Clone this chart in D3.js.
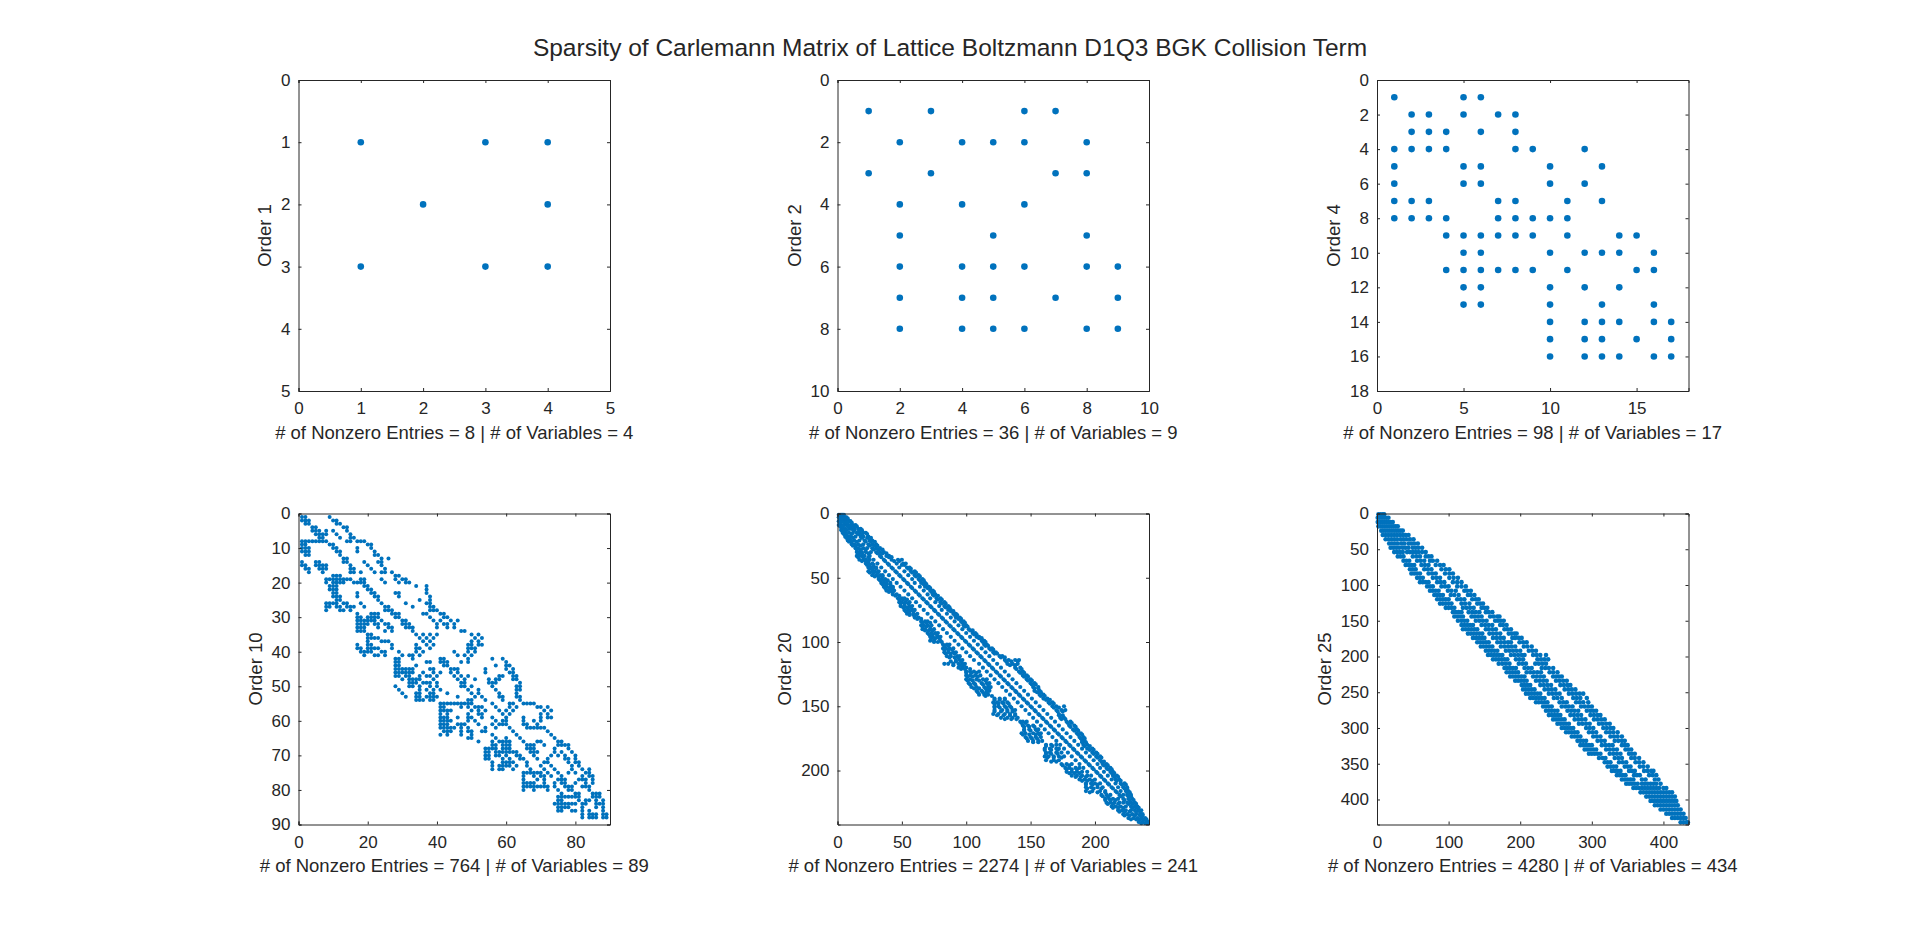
<!DOCTYPE html>
<html>
<head>
<meta charset="utf-8">
<script src="https://cdn.jsdelivr.net/npm/d3@7/dist/d3.min.js"></script>
<style>
    html, body { margin: 0; padding: 0; background: #fff; }
    text { font-family: "Liberation Sans", Arial, sans-serif; fill: #262626; }
</style>
</head>
<body>
<svg id="chart" width="1920" height="926"></svg>
<script>
const chartTitle = "Sparsity of Carlemann Matrix of Lattice Boltzmann D1Q3 BGK Collision Term";
const orderLabels = [1, 2, 4, 10, 20, 25];
const nonzeroCounts = [8, 36, 98, 764, 2274, 4280];
const variableCounts = [4, 9, 17, 89, 241, 434];
const axisMaxima = [5, 10, 18, 90, 242, 435];
const xTickValues = [[0,1,2,3,4,5], [0,2,4,6,8,10], [0,5,10,15], [0,20,40,60,80], [0,50,100,150,200], [0,100,200,300,400]];
const yTickValues = [[0,1,2,3,4,5], [0,2,4,6,8,10], [0,2,4,6,8,10,12,14,16,18], [0,10,20,30,40,50,60,70,80,90], [0,50,100,150,200], [0,50,100,150,200,250,300,350,400]];

// every row below is [row, col, col, ...]
const order1Rows = [[1,1,3,4],[2,2,4],[3,1,3,4]];
const order2Rows = [[1,1,3,6,7],[2,2,4,5,6,8],[3,1,3,7,8],[4,2,4,6],[5,2,5,8],[6,2,4,5,6,8,9],[7,2,4,5,7,9],[8,2,4,5,6,8,9]];
const order4Rows = [[1,1,5,6],[2,2,3,5,7,8],[3,2,3,4,6,8],[4,1,2,3,4,8,9,12],[5,1,5,6,10,13],[6,1,5,6,10,12],[7,1,2,3,7,8,11,13],[8,1,2,3,4,7,8,9,10,11],
    [9,4,5,6,7,8,9,11,14,15],[10,5,6,10,12,13,14,16],[11,4,5,6,7,8,9,11,15,16],[12,5,6,10,12,14],[13,5,6,10,13,16],[14,10,12,13,14,16,17],[15,10,12,13,15,17],[16,10,12,13,14,16,17]];
const order10Rows = [
    [1,1,2,9],[2,1,2,3,10,11],[3,2,3,11,12],[4,4,5,13,14],[5,4,5,6,8,10,14],[6,5,6,7,8,11,15],[7,6,7,12,15,16],
    [8,1,2,3,4,5,6,7,8,14,15,17,18,19],[9,1,2,9,10,20,21],[10,1,2,3,10,11,17,21],[11,1,2,3,11,12,17,22],[12,2,3,12,22,23],
    [13,13,14,24,26],[14,1,5,6,13,14,19,23,24],[15,1,2,5,6,7,8,15,20,24],[16,2,3,6,7,8,15,16,21,25],[17,3,7,15,16,18,22,24,25,27],
    [18,10,11,12,28,29],[19,8,9,10,11,12,13,14,15,18,19,24,28,30,31],[20,8,10,11,12,13,16,17,18,19,25,29,31,32],[21,9,10,11,19,20,34,37],
    [22,9,10,11,20,21,37],[23,10,11,17,21,22,28,29,37],[24,10,11,12,17,22,23,29,38],[25,11,12,23,35,38],[26,8,9,10,11,13,14,18,24,31,37,38],
    [27,8,9,11,12,14,15,16,19,25,26,33,38,39],[28,8,12,13,15,25,26,27,38,39,40],[29,17,21,22,23,27,28,29,36,37,41,42],[30,17,18,20,21,22,23,28,29,38,42,43],
    [31,17,18,19,20,21,22,24,30,31,39,41,44,46],[32,17,18,19,20,22,23,25,26,30,31,32,40,42,43,45],[33,17,18,19,23,26,27,31,32,33,40,43,45],[34,17,18,19,25,27,33,47,48],
    [35,20,21,34,36,38,40,50,52],[36,20,21,22,23,35,37,39,51,53],[37,20,24,25,26,36,38,50,52],[38,17,20,21,27,34,37,39,49,50,52,53],[39,17,18,20,21,22,23,27,34,35,38,49,50,51],
    [40,18,19,20,21,24,25,29,34,36,45,49,51],[41,19,22,23,25,30,32,33,35,46,48,50],[42,28,29,33,41,42,49,56,59],[43,28,29,37,38,41,42,43,47,49,60],[44,28,29,34,42,43,57,60,61],
    [45,28,29,30,31,32,33,38,39,44,45,46,54,60,62],[46,28,29,30,31,32,33,36,39,41,44,46,54,61,62],[47,28,29,31,32,35,37,38,40,45,47,49,58,59,62,63],
    [48,30,32,33,34,35,39,46,48,51,55,57,58,62,63],[49,32,33,34,36,37,38,40,47,48,55,56,57,64],[50,28,32,33,35,38,40,47,48,50,56,63,64],[51,29,35,37,39,41,49,52,57,63,64],
    [52,30,34,35,38,39,43,50,52,58,63],[53,31,34,35,37,38,39,40,46,51,53,58,59,63,64],[54,34,35,36,38,39,49,50,54,59,64],[55,41,42,43,44,45,46,47,48,49,50,56,61,62,65,66,67,68],
    [56,41,42,47,49,51,52,53,57,61,63,69,70,72],[57,41,42,43,44,50,52,54,58,60,62,71,73],[58,41,43,49,52,53,59,61,70,72],[59,41,42,43,46,49,50,53,56,60,65,70,72,73],
    [60,41,42,43,44,49,51,57,59,60,65,68,70],[61,41,42,43,46,47,48,52,56,58,59,60,65,66,69],[62,41,42,43,44,45,47,49,54,57,61,66,67,68,69,70,71],[63,42,43,44,47,49,50,53,54,62,72],
    [64,41,43,47,50,56,63,73],[65,49,50,57,60,64,74],[66,52,56,58,59,60,61,65,69,70,75,76],[67,56,57,59,60,61,66,67,68,71,75,76,77,78],[68,54,55,56,57,59,60,61,66,67,68,74,78],
    [69,54,55,57,58,59,60,61,62,63,67,68,69,74,76,79],[70,54,55,57,58,60,63,64,68,73,75,77,80],[71,54,55,59,61,64,65,69,72,77,78,80],[72,56,59,60,61,62,66,71,72,78,80,81],
    [73,56,58,59,60,61,63,66,70,73,79,81],[74,56,58,59,62,67,71,74,79,82,84],[75,65,66,67,68,69,70,72,75,78,80,83,84],[76,65,68,70,71,73,76,82,84,85],[77,65,69,71,75,76,77,81,82,83,85],
    [78,65,66,67,68,71,74,76,77,80,83,85],[79,65,66,67,68,69,70,71,72,74,77,78,79,82,83,84],[80,65,68,72,75,78,79,84],[81,76,80,81,85,86,87],[82,75,76,77,78,79,80,81,85,86,87],
    [83,75,76,81,83,84,86,88],[84,74,75,76,77,78,79,80,82,83,86,87,88],[85,75,76,77,78,82,86,88],[86,75,76,79,80,82,84,88],[87,82,84,85,86,88,89],[88,82,84,85,86,88,89]
];
const order20Rows = [
    [1,1,2,3,4,5],[3,1,2,3,4,5,6,7],[6,1,2,3,5,6,7,9,10],[9,1,2,3,5,7,8,10,12,14],[12,3,4,6,9,11,13,16,18],[15,4,5,6,9,12,15,17,20,22],[18,6,7,8,10,14,18,20,24],
    [21,8,9,10,13,17,21,25,27],[24,11,13,16,20,24,27,30],[27,14,16,20,23,27,30,33],[30,15,17,19,22,26,30,33,36],[33,15,17,19,21,25,33,38,40],
    [36,17,20,22,25,28,36,42,47,50],[39,22,24,27,31,39,46,51,53],[42,24,26,28,30,34,42,48,54,56],[45,24,27,29,32,37,45,52,57,60],[48,27,30,33,35,40,48,55,60,63],
    [51,32,34,37,43,51,58,63,66],[54,34,36,38,41,46,54,60,65,68],[57,36,38,41,43,49,57,64,68,71],[60,38,41,44,52,60,67,72,74],[63,43,46,55,63,70,74,76],[66,47,50,52,58,66,72,77,80],
    [69,48,50,53,56,61,69,76,80,83],[72,49,52,56,58,64,72,79,83,86],[75,52,55,58,60,67,75,81,86,88],[78,54,56,59,62,70,78,85,90,92],[81,60,63,73,81,88,92,95],[84,65,68,70,76,84,91,96,98],
    [87,65,67,70,73,79,87,94,98,100],[90,66,68,72,75,82,90,97,102],[93,70,73,76,78,85,93,100,105,107],[96,72,74,78,80,88,96,103,108,110],[99,72,75,80,91,99,106,112,114],
    [102,82,85,87,94,102,109,114,116],[105,82,84,87,90,97,105,112,118,120],[108,83,86,90,92,100,108,115,121,123],[111,85,88,93,95,103,111,118,126,128],[114,92,95,97,106,114,121,130,133,138,141],
    [117,83,86,90,94,97,99,110,117,124,132,136,140],[120,94,97,100,113,120,127,138,142],[123,100,103,106,110,116,123,130,141,144],[126,100,103,107,111,119,126,133,144,147],
    [129,100,103,108,113,116,122,129,136,147,150],[132,102,106,112,116,118,125,132,139,150,153],[135,104,108,114,117,119,128,135,142,152,156],[138,108,112,116,118,131,138,145,153,157],
    [141,110,114,117,134,141,148,157,160],[144,122,126,130,137,144,151,160,163],[147,121,124,128,132,140,147,154,164,167],[150,122,125,130,134,143,150,157,167,170,176],
    [153,122,128,132,136,138,146,153,160,170,174,177],[156,121,125,130,134,138,149,156,163,172],[159,127,132,136,140,152,159,166,173,176],[162,142,144,147,155,162,169,178,181],
    [165,144,148,152,158,165,172,180,184],[168,145,149,154,156,161,168,175,183,186],[171,143,146,152,156,158,164,171,178,186,189],[174,146,150,154,158,167,174,181,188,191],
    [177,148,152,156,159,170,177,184,190,192],[180,162,166,170,173,180,187,191,194],[183,161,165,170,172,176,183,190,194,198],[186,162,165,170,174,179,186,193,198,201],
    [189,161,164,168,172,176,182,189,196,201,204],[192,162,168,172,185,192,199,204],[195,174,178,182,188,195,202,206,209],[198,177,180,185,188,191,198,204,209,212],
    [201,178,182,186,190,194,201,207,212,214],[204,182,186,190,194,197,204,210,214,217],[207,188,192,196,200,207,213,216,219],[210,193,197,200,204,210,216,220,223],
    [213,193,197,202,206,213,218,222,225],[216,193,198,204,208,216,220,224,226],[219,205,209,212,219,222,225,228],[222,208,211,214,218,222,226,229],[225,209,212,215,219,222,225,228,231],
    [228,213,216,220,224,228,231,233],[231,218,221,224,228,231,234,236],[234,222,225,229,232,235,237],[237,226,230,233,236,239],[240,234,237,240,241],[241,236,239,241],
    [4,2,4,6,8],[7,2,5,7,8,11],[10,2,4,8,10,13,15],[13,3,5,7,13,17,19],[16,5,7,11,16,19,23],[19,7,9,12,19,23,26],[22,9,11,15,22,26,29],[25,12,14,18,25,29,31],[28,15,18,22,28,32,35],[31,16,19,24,31,35,38],[34,16,20,24,34,40,42],
    [37,19,22,24,37,44,48],[40,23,25,28,40,50,52],[43,25,27,30,43,55,57],[46,25,28,31,46,58,61],[49,29,32,35,49,61,64],[52,33,36,39,52,64,67],[55,35,38,41,55,67,69],[58,37,40,43,58,70,72],[61,40,43,61,73,75],[64,45,48,64,75,78],
    [67,48,51,54,67,78,81],[70,49,52,55,70,81,84],[73,51,54,57,73,84,87],[76,53,56,59,76,88,90],[79,56,59,61,79,91,93],[82,62,65,82,94,96],[85,66,69,72,85,97,99],[88,66,69,72,88,99,101],[91,68,71,74,91,103,105],[94,71,74,77,94,106,108],
    [97,73,76,79,97,110,112],[100,75,78,81,100,113,115],[103,83,86,103,115,117],[106,83,86,89,106,119,121],[109,84,88,91,109,122,124],[112,87,91,94,112,127,130],[115,88,92,96,115,131,135,140],[118,90,95,98,118,134,138],[121,96,99,103,121,139,143],
    [124,100,104,108,124,142,145],[127,101,105,109,127,145,148],[130,101,105,110,115,130,148,151],[133,103,107,113,117,133,151,154],[136,106,110,115,118,136,153,156],[139,109,113,116,139,155,158],[142,115,120,142,158,161],[145,122,126,130,145,162,165],
    [148,122,125,129,133,148,165,168],[151,122,126,131,135,151,168,172],[154,122,127,132,136,154,171,175],[157,124,129,134,138,157,172,175],[160,130,135,139,160,174,177],[163,143,146,163,179,182],[166,145,149,153,166,181,185],[169,145,150,155,169,184,187],
    [172,144,149,154,157,172,187,190],[175,147,151,155,175,189,192],[178,152,156,178,190,193],[181,162,167,181,192,196],[184,161,166,171,184,196,199],[187,162,166,171,187,199,202],[190,163,168,174,190,202,205],[193,166,170,193,205,207],[196,175,180,196,207,210],
    [199,178,182,186,199,210,213],[202,180,184,188,202,213,215],[205,185,189,193,205,215,218],[208,190,194,198,208,217,220],[211,193,198,202,211,221,224],[214,194,199,205,214,223,225],[217,196,202,208,217,225,227],[220,206,210,220,226,228],[223,208,212,216,223,227,230],
    [226,210,214,218,226,229,232],[229,214,218,222,229,232,234],[232,219,223,227,232,235],[235,223,227,231,235,237],[238,228,232,235,238,240]
];
const order25Rows = [
    [1,2,5,8,10],[6,1,4,7,10,13,16],[12,1,4,7,10,13,16,19,22],[18,2,5,8,11,14,17,20,23,26,29],[24,6,9,12,15,18,21,24,27,30,33,36],[30,8,12,16,20,24,28,32,36,40,44],
    [36,12,16,20,24,28,33,37,41,46,51],[42,17,21,25,29,34,38,44,48,52,57],[48,19,23,27,31,36,40,44,50,54,58,63],[54,24,28,32,36,42,46,50,54,58,63,68],
    [60,29,33,37,50,55,60,68,72,76],[66,37,41,45,56,61,66,74,78,84],[72,40,44,48,52,62,67,72,82,88,93],[78,46,50,54,66,71,76,90,96,101],[84,48,52,56,60,72,77,82,95,101,106],[90,56,60,64,78,83,88,101,107,113],
    [96,60,64,68,72,84,89,94,106,112,118],[102,70,74,78,90,95,100,112,118,124],[108,74,78,82,86,99,104,110,122,126,131],[114,80,84,88,92,103,108,114,127,131,136],
    [120,84,88,92,96,100,112,117,122,133,138,142],[126,88,92,96,100,104,118,123,129,140,144,148],[132,96,100,104,108,120,125,130,135,146,150,154],[138,106,110,114,118,128,133,138,143,152,156,161],
    [144,108,112,116,120,132,136,141,146,158,163,168,171],[150,113,118,122,126,138,143,148,153,165,169,173,177],[156,118,122,126,130,134,146,151,156,161,172,176,181],
    [162,120,124,128,132,136,140,152,156,161,166,178,182,187],[168,127,131,135,139,143,147,157,162,167,172,184,188,192,195],[174,134,138,142,146,150,162,167,172,177,189,193,198,202],
    [180,140,144,148,152,156,168,173,178,183,187,199,204,209],[186,145,149,153,157,161,173,178,183,188,193,205,210,216],[192,152,156,160,164,168,180,185,190,195,200,212,217,222],
    [198,155,159,163,167,171,175,187,192,197,202,206,218,223,228,236],[204,162,166,170,174,178,182,194,199,204,224,229,234,239],[210,170,175,180,185,198,203,208,221,226,231,236],
    [216,178,182,186,190,194,206,211,216,230,235,240,246],[222,181,185,189,193,197,209,214,219,224,229,241,246,252],[228,186,190,194,198,202,206,218,223,228,233,246,250,254,258],
    [234,193,197,201,205,209,222,227,232,237,250,255,260,265],[240,202,206,210,214,228,233,238,243,256,261,266,270],[246,204,208,212,216,220,234,239,244,249,262,267,272,277],
    [252,208,212,216,220,224,228,240,245,250,255,268,273,278,283,288],[258,214,218,222,226,230,234,247,252,258,274,279,284,293],[264,222,226,230,234,238,255,260,265,278,283,288,295],
    [270,232,236,240,244,258,263,268,273,285,290,295,300],[276,236,240,244,248,252,266,271,276,281,293,298,302,306],[282,240,244,248,252,256,270,275,280,285,298,303,308,312],
    [288,246,250,254,258,262,276,281,286,291,303,308,313,318],[294,252,256,260,264,268,282,287,292,297,310,315,320,325],[300,258,262,266,270,274,292,297,302,316,321,326,330],
    [306,264,268,272,276,280,296,301,306,320,325,330,336],[312,272,276,280,284,302,307,312,326,331,336,342],[318,280,284,288,292,308,313,318,332,337,342,346],
    [324,284,288,292,296,300,314,319,324,329,342,346,350],[330,290,294,298,302,306,320,325,330,335,347,351,355],[336,296,300,304,308,312,325,330,335,340,352,356,360],
    [342,310,315,319,332,337,342,355,360,366],[348,318,322,326,338,343,348,361,366,372],[354,322,326,330,334,346,350,354,367,372,378],[360,328,332,336,340,352,356,360,373,378,383,386],
    [366,335,339,343,347,359,363,367,380,385,390],[372,342,346,350,354,358,370,375,388,393],[378,348,352,356,360,364,370,374,378,382,386,390,396],[384,358,362,366,370,374,378,382,386,390,394,400,404],
    [390,368,372,376,380,384,388,392,396,400,404,408,412],[396,376,380,384,388,392,396,400,404,408,412,416],[402,382,386,390,394,398,402,406,410,414,418],[408,388,392,396,400,404,408,412,416,420],
    [414,396,400,404,408,412,416,420,424],[420,404,408,412,416,420,424,428],[426,412,416,420,424,428,431],[432,424,428,432,434]
];
const sparsityRows = [order1Rows, order2Rows, order4Rows, order10Rows, order20Rows, order25Rows];

const svg = d3.select("#chart");
const inkColor = "#262626";
const dotColor = "#0072BD";
const columnLefts = [298.5, 837.5, 1377];
const rowTops = [80, 513.5];
const plotSize = {w: 311.5, h: 311};
const dotRadius = [3.3, 3.3, 3.3, 2, 2.1, 2.3];

svg.append("text")
    .attr("x", 950)
    .attr("y", 55.5)
    .attr("text-anchor", "middle")
    .attr("font-size", 24.5)
    .text(chartTitle);

orderLabels.forEach((order, i) =>
{
    const left = columnLefts[i % 3];
    const top = rowTops[Math.floor(i / 3)];
    const g = svg.append("g").attr("transform", `translate(${left},${top})`);

    const x = d3.scaleLinear().domain([0, axisMaxima[i]]).range([0, plotSize.w]);
    const y = d3.scaleLinear().domain([0, axisMaxima[i]]).range([0, plotSize.h]);

    const points = sparsityRows[i].flatMap(([row, ...cols]) => cols.map(col => ({col, row})));
    g.selectAll("circle")
        .data(points)
        .enter().append("circle")
        .attr("cx", d => x(d.col))
        .attr("cy", d => y(d.row))
        .attr("r", dotRadius[i])
        .attr("fill", dotColor);

    const xAxis = g.append("g").attr("transform", `translate(0,${plotSize.h})`)
        .call(d3.axisBottom(x).tickValues(xTickValues[i]).tickFormat(d3.format("d")).tickSize(-3).tickPadding(11));
    const yAxis = g.append("g")
        .call(d3.axisLeft(y).tickValues(yTickValues[i]).tickFormat(d3.format("d")).tickSize(-3).tickPadding(8));
    g.append("g").call(d3.axisTop(x).tickValues(xTickValues[i]).tickSize(-3).tickFormat(""));
    g.append("g").attr("transform", `translate(${plotSize.w},0)`)
        .call(d3.axisRight(y).tickValues(yTickValues[i]).tickSize(-3).tickFormat(""));

    g.selectAll(".domain").attr("stroke", inkColor).attr("stroke-width", 1);
    g.selectAll(".tick line").attr("stroke", inkColor).attr("stroke-width", 1);
    g.selectAll(".tick text")
        .attr("font-size", 17)
        .attr("font-family", "'Liberation Sans', Arial, sans-serif")
        .attr("fill", inkColor);

    g.append("text")
        .attr("x", plotSize.w / 2)
        .attr("y", plotSize.h + 47.5)
        .attr("text-anchor", "middle")
        .attr("font-size", 18.5)
        .text(`# of Nonzero Entries = ${nonzeroCounts[i]} | # of Variables = ${variableCounts[i]}`);

    // the y label sits just outside the widest tick label
    const tickLeft = yAxis.node().getBBox().x;
    g.append("text")
        .attr("transform", `translate(${tickLeft - 10},${plotSize.h / 2}) rotate(-90)`)
        .attr("text-anchor", "middle")
        .attr("font-size", 18.5)
        .text(`Order ${order}`);
});
</script>
</body>
</html>
